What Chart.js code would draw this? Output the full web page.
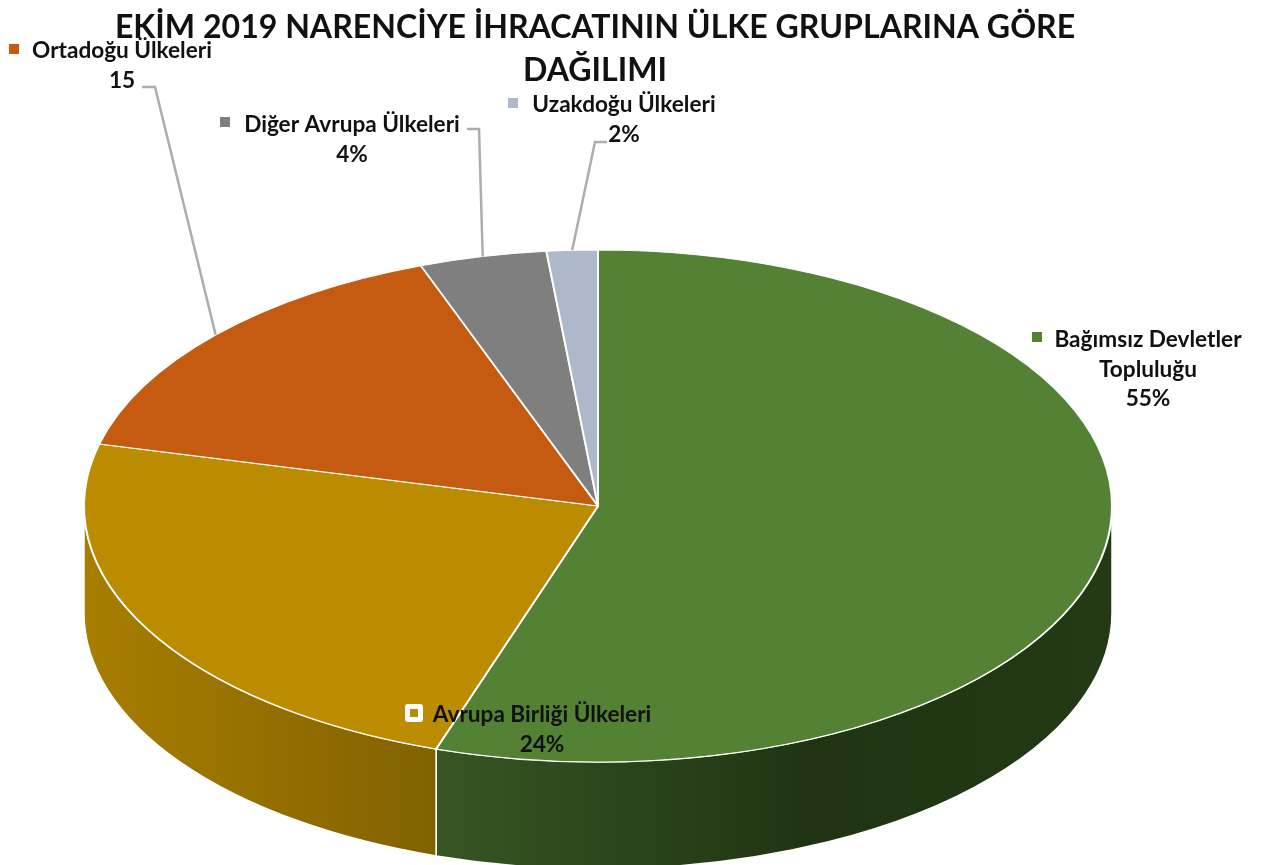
<!DOCTYPE html>
<html>
<head>
<meta charset="utf-8">
<title>Ekim 2019 Narenciye</title>
<script src="https://cdn.jsdelivr.net/npm/chart.js@4"></script>
<style>
  html, body { margin: 0; padding: 0; background: #fff; overflow: hidden; }
  canvas { display: block; }
</style>
</head>
<body>
<canvas id="pie" width="1266" height="865"></canvas>
<script>
// values, clockwise from the top
const categories = ['Bağımsız Devletler Topluluğu', 'Avrupa Birliği Ülkeleri', 'Ortadoğu Ülkeleri', 'Diğer Avrupa Ülkeleri', 'Uzakdoğu Ülkeleri'];
const sliceValues = [55.1, 23.8, 15.5, 4, 1.6];
const valueLabels = ['55%', '24%', '15', '4%', '2%'];
const titleLines = ['EKİM 2019 NARENCİYE İHRACATININ ÜLKE GRUPLARINA GÖRE', 'DAĞILIMI'];

const sliceColors = ['#548235', '#BC8C00', '#C55A11', '#7F7F7F', '#ADB9CA'];
const sideStops = [
  [[0, '#375623'], [0.55, '#203413'], [1, '#233a14']],
  [[0, '#a87e00'], [1, '#826100']]
];

const pieCenter = { x: 598, y: 506 };
const radiusX = 514, radiusY = 256, depth = 107;

// label text: lines centred on cx, marker square at mx/my
const labelBoxes = [
  { lines: ['Bağımsız Devletler', 'Topluluğu'], cx: 1148, y: 340, mx: 1037, my: 337 },
  { lines: ['Avrupa Birliği Ülkeleri'], cx: 542, y: 715, mx: 414, my: 713, selected: true },
  { lines: ['Ortadoğu Ülkeleri'], cx: 122, y: 51, mx: 14, my: 49, leader: [[142, 87], [155, 87]] },
  { lines: ['Diğer Avrupa Ülkeleri'], cx: 352, y: 125, mx: 225, my: 122, leader: [[467, 129], [479, 129]] },
  { lines: ['Uzakdoğu Ülkeleri'], cx: 624, y: 105, mx: 513, my: 103, leader: [[607, 142], [595, 142]] }
];
const lineGap = 29.5;

const sidePlugin = {
  id: 'tiltedPie',
  beforeDatasetsDraw(chart) {
    const ctx = chart.ctx;
    const arcs = chart.getDatasetMeta(0).data;
    // side wall, only the front half of the ellipse shows
    arcs.forEach((arc, i) => {
      const a0 = Math.max(arc.startAngle, 0);
      const a1 = Math.min(arc.endAngle, Math.PI);
      if (a1 <= a0) return;
      const x0 = pieCenter.x + radiusX * Math.cos(a1);
      const x1 = pieCenter.x + radiusX * Math.cos(a0);
      // gradients run left to right on screen
      const grad = ctx.createLinearGradient(x0, 0, x1, 0);
      sideStops[i].forEach(s => grad.addColorStop(s[0], s[1]));
      ctx.save();
      ctx.beginPath();
      ctx.ellipse(pieCenter.x, pieCenter.y, radiusX, radiusY, 0, a0, a1);
      ctx.ellipse(pieCenter.x, pieCenter.y + depth, radiusX, radiusY, 0, a1, a0, true);
      ctx.closePath();
      ctx.fillStyle = grad;
      ctx.fill();
      ctx.strokeStyle = '#fff';
      ctx.lineWidth = 1.5;
      ctx.stroke();
      ctx.restore();
    });
    // squash the library's round pie into the ellipse
    ctx.save();
    ctx.translate(pieCenter.x, pieCenter.y);
    ctx.scale(1, radiusY / radiusX);
    ctx.translate(-arcs[0].x, -arcs[0].y);
  },
  afterDatasetsDraw(chart) {
    const ctx = chart.ctx;
    ctx.restore();
    const arcs = chart.getDatasetMeta(0).data;

    ctx.save();
    ctx.fillStyle = '#111';
    ctx.textAlign = 'center';
    ctx.textBaseline = 'middle';
    ctx.font = 'bold 32.1px Lato';
    ctx.fillText(titleLines[0], 595, 28);
    ctx.fillText(titleLines[1], 595, 71);

    labelBoxes.forEach((box, i) => {
      ctx.font = 'bold 22.6px Lato';
      ctx.fillStyle = '#111';
      const allLines = box.lines.concat(valueLabels[i]);
      allLines.forEach((line, n) => ctx.fillText(line, box.cx, box.y + n * lineGap));

      if (box.selected) {
        ctx.fillStyle = '#fff';
        ctx.beginPath();
        ctx.roundRect(box.mx - 9, box.my - 9, 18, 18, 3);
        ctx.fill();
        ctx.fillStyle = sliceColors[i];
        ctx.fillRect(box.mx - 4, box.my - 4, 8, 8);
      } else {
        ctx.fillStyle = sliceColors[i];
        ctx.fillRect(box.mx - 5, box.my - 5, 10, 10);
      }

      if (box.leader) {
        // leader ends on the rim at the slice's middle angle
        const mid = (arcs[i].startAngle + arcs[i].endAngle) / 2;
        ctx.strokeStyle = '#ADADAD';
        ctx.lineWidth = 2.5;
        ctx.beginPath();
        ctx.moveTo(box.leader[0][0], box.leader[0][1]);
        ctx.lineTo(box.leader[1][0], box.leader[1][1]);
        ctx.lineTo(pieCenter.x + radiusX * Math.cos(mid), pieCenter.y + radiusY * Math.sin(mid));
        ctx.stroke();
      }
    });
    ctx.restore();
  }
};

new Chart(document.getElementById('pie'), {
  type: 'pie',
  data: {
    labels: categories,
    datasets: [{
      data: sliceValues,
      backgroundColor: sliceColors,
      borderColor: '#fff',
      borderWidth: 2,
      radius: radiusX,
      clip: false
    }]
  },
  options: {
    responsive: false,
    animation: false,
    plugins: { legend: { display: false }, tooltip: { enabled: false } }
  },
  plugins: [sidePlugin]
});
</script>
</body>
</html>
